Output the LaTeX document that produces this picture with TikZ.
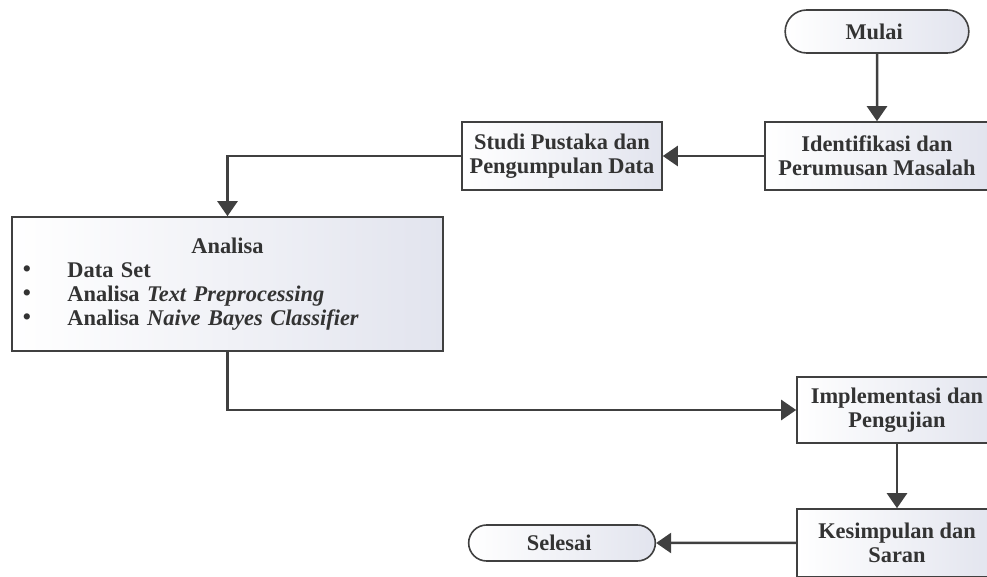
\documentclass[tikz,border=0pt]{standalone}
\usepackage{fontspec}
\setmainfont{Liberation Serif}
\usetikzlibrary{shapes,arrows.meta,positioning}
\definecolor{linegray}{HTML}{404040}
\definecolor{textgray}{HTML}{333333}
\definecolor{fillgray}{HTML}{E2E4EE}
\newcommand{\itembullet}{\makebox[22.5pt][l]{\mdseries\fontsize{13}{12}\selectfont\textbullet}}
\tikzset{
    process/.style={
        rectangle,
        draw=linegray,
        line width=0.8pt,
        left color=white,
        right color=fillgray,
        text=textgray,
        align=center,
        minimum width=100pt,
        minimum height=34pt,
    },
    terminal/.style={
        process,
        rounded rectangle,
        minimum width=100pt,
        minimum height=18pt,
    },
    flow/.style={
        -{Triangle[length=7.5pt,width=10pt]},
        line width=1.25pt,
        draw=linegray,
    },
}

\begin{document}
\begin{tikzpicture}[
    x=0.5pt,
    y=-0.5pt,
    on grid,
    font=\bfseries\fontsize{11.2}{12}\selectfont]

\useasboundingbox (0,0) rectangle (987,577);

% Mulai
\node
[
    terminal,
    minimum width=98.5pt,
    minimum height=21.5pt
] (mulai) at (877,31.5)
{
    Mulai
};
% Identifikasi
\node
[
    process,
    minimum width=112pt
] (ident) [below=62.25pt of mulai]
{
    Identifikasi dan \\ Perumusan Masalah
};
% Studi Pustaka
\node
[
    process
] (studi) [left=157.5pt of ident]
{
    Studi Pustaka dan \\ Pengumpulan Data
};
% Analisa
\node
[
    process,
    minimum width=215.5pt,
    minimum height=67pt,
    text width=205pt,
    inner xsep=5.25pt,
    align=left
] (analisa) [below left=64pt and 167.25pt of studi]
{
    \makebox[205pt]{Analisa} \\
    \itembullet Data Set \\
    \itembullet Analisa \textit{Text Preprocessing} \\
    \itembullet Analisa \textit{Naive Bayes Classifier}
};
% Implementasi
\node
[
    process,
    minimum height=33pt
] (impl) [below right=127pt and 10pt of ident]
{
    Implementasi dan \\ Pengujian
};
% Kesimpulan
\node
[
    process
] (kes) [below=66.5pt of impl]
{
    Kesimpulan dan \\ Saran
};
% Selesai
\node
[
    terminal
] (selesai) [left=167.5pt of kes]
{
    Selesai
};
% Alur
\draw [flow] (mulai) -- (ident);
\draw [flow] (ident) -- (studi);
\draw [flow] (studi.west) -| (analisa.north);
\draw [flow] (analisa.south) |- (impl.west);
\draw [flow] (impl) -- (kes);
\draw [flow] (kes) -- (selesai);

\end{tikzpicture}
\end{document}
